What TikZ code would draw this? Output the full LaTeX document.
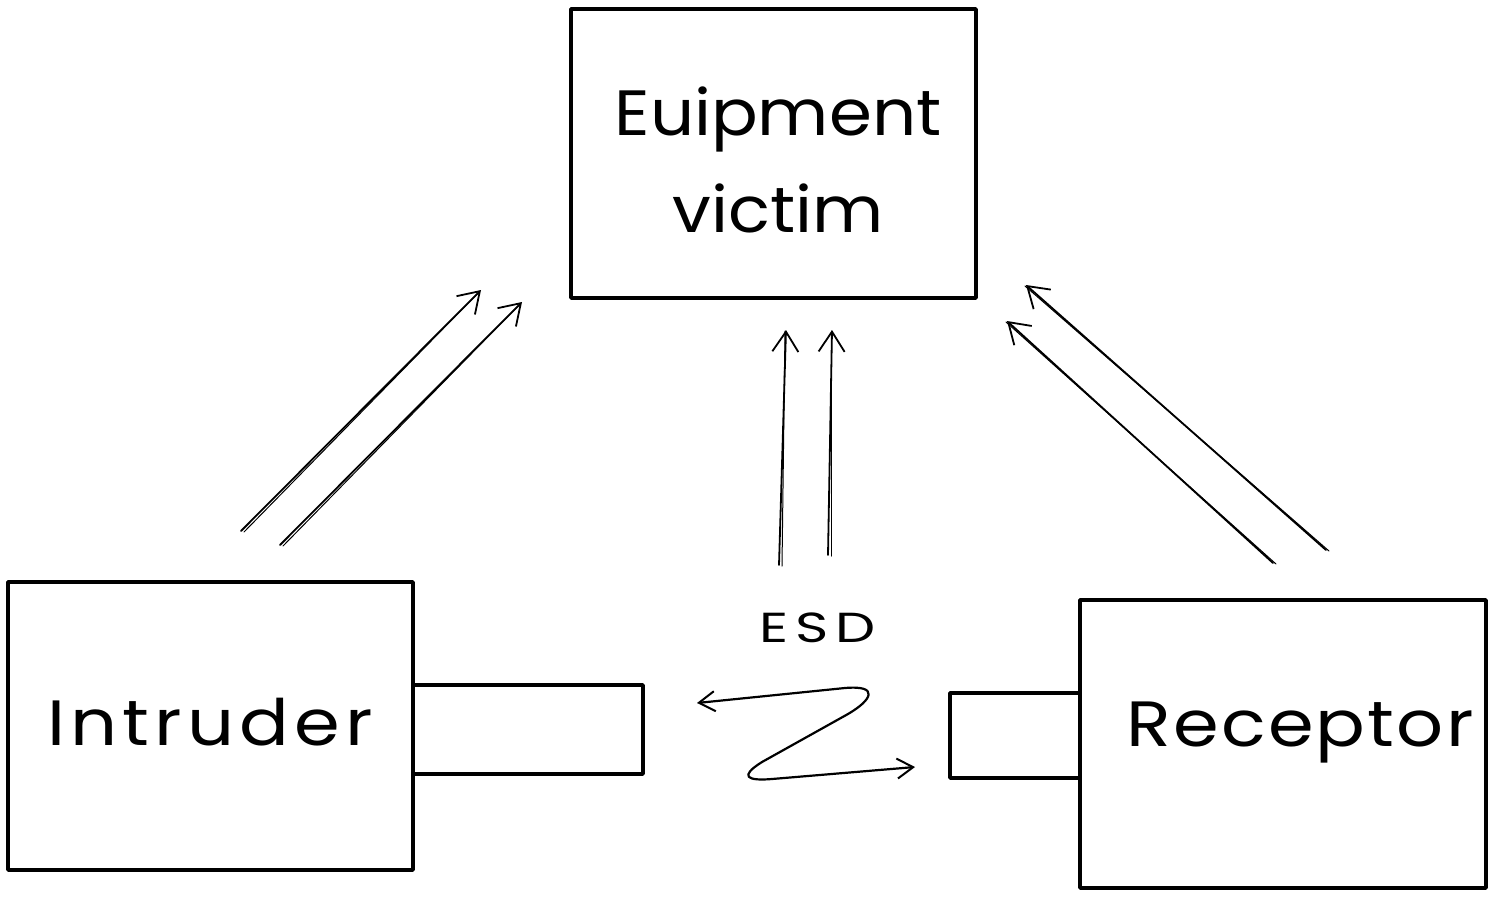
\documentclass[tikz,border=0pt]{standalone}
\usepackage{fontspec}
\setmainfont{Poppins}
\usetikzlibrary{arrows.meta,calc}
\begin{document}
\begin{tikzpicture}[x=1pt,y=-1pt,
  box/.style={draw=black,line width=3.6pt,rectangle,inner sep=0pt,line join=round},
  bigtext/.style={font=\fontsize{64}{97}\selectfont,align=center,inner sep=0pt},
  smalltext/.style={font=\fontsize{42}{50}\selectfont,inner sep=0pt},
  arr/.style={line width=1.8pt,line cap=round,-{Straight Barb[length=20pt,width=26pt,line width=1.8pt]}},
  twin/.style={line width=1pt,line cap=round},
  zig/.style={line width=2.2pt,line cap=round,line join=round,
    {Straight Barb[length=16pt,width=20pt,line width=2pt]}-{Straight Barb[length=16pt,width=20pt,line width=2pt]}}]
\useasboundingbox (0,0) rectangle (1494,898);

% main boxes
\node[box,minimum width=405pt,minimum height=289pt] (victim) at (773.5,153.5) {};
\node[box,minimum width=405pt,minimum height=288pt] (intruder) at (210.5,726) {};
\node[box,minimum width=406pt,minimum height=288pt] (receptor) at (1283,744) {};

% connector stubs
\node[box,minimum width=230pt,minimum height=89pt] (iport) at (528,729.5) {};
\node[box,minimum width=130pt,minimum height=85pt] (rport) at (1015,735.5) {};

% labels
\node[bigtext,xscale=1.08] (victimtext) at (778,160) {Euipment\\victim};
\node[bigtext,xscale=1.15] (intrudertext) at (210,722) {\addfontfeature{LetterSpace=7}Intruder};
\node[bigtext,xscale=1.15] (receptortext) at (1300,733) {\addfontfeature{LetterSpace=3}Receptor};
\node[smalltext,xscale=1.35] (esd) at (818,628) {\addfontfeature{LetterSpace=12}ESD};

% arrow end points
\coordinate (l1s) at (241,531);  \coordinate (l1e) at (481,290);
\coordinate (l2s) at (280,545);  \coordinate (l2e) at (522,302);
\coordinate (c1s) at (779,565);  \coordinate (c1e) at (786,330);
\coordinate (c2s) at (828,555);  \coordinate (c2e) at (832,330);
\coordinate (r1s) at (1273,563); \coordinate (r1e) at (1007,321);
\coordinate (r2s) at (1326,550); \coordinate (r2e) at (1026,285);

% influence arrows towards the victim, each with a sketchy twin stroke
\foreach \s/\e in {l1s/l1e,l2s/l2e,c1s/c1e,c2s/c2e,r1s/r1e,r2s/r2e}{
  \draw[arr] (\s) -- (\e);
  \draw[twin] ($(\s)+(3,1)$) -- ($(\e)+(-1,1)$);
}

% discharge zigzag between the two stubs
\coordinate (zl) at (697,703);
\coordinate (zr) at (915,767);
\draw[zig] (zl) -- (845,688) .. controls (880,685) and (872,700) .. (848,714)
  -- (762,762) .. controls (738,777) and (748,781) .. (772,779) -- (zr);
\end{tikzpicture}
\end{document}
